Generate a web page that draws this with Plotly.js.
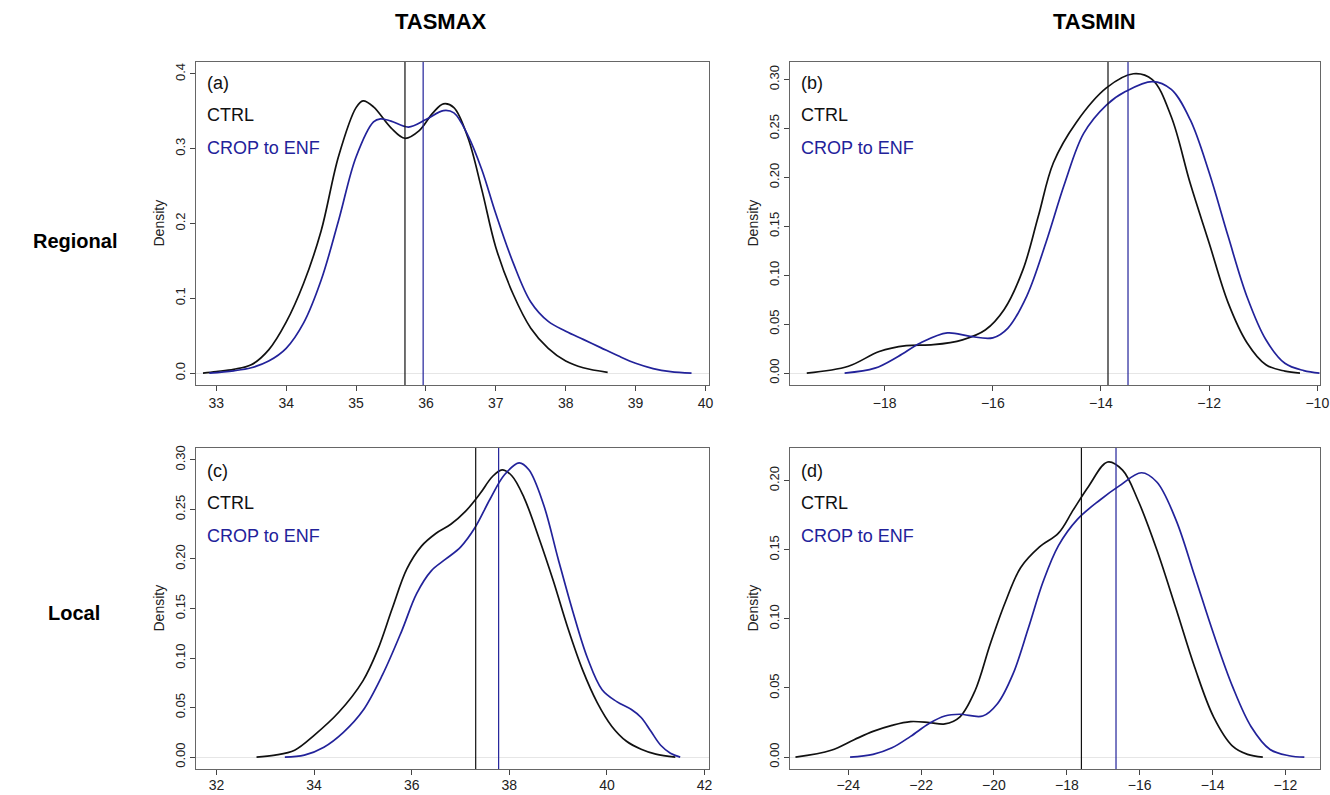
<!DOCTYPE html>
<html>
<head>
<meta charset="utf-8">
<script src="https://cdn.plot.ly/plotly-3.0.1.min.js"></script>
<style>html,body{margin:0;padding:0;background:#fff;}#chart{width:1330px;height:795px;}</style>
</head>
<body>
<div id="chart"></div>
<script>
// ---- Data ----
// (a) TASMAX, Regional
const aCtrlX = [32.81, 33.0, 33.25, 33.5, 33.75, 34.0, 34.25, 34.5, 34.75, 35.0, 35.1, 35.25, 35.5, 35.7, 35.9, 36.1, 36.25, 36.4, 36.6, 36.8, 37.0, 37.25, 37.5, 37.75, 38.0, 38.25, 38.6];
const aCtrlY = [0, 0.002, 0.005, 0.011, 0.031, 0.068, 0.12, 0.19, 0.29, 0.355, 0.364, 0.356, 0.328, 0.314, 0.324, 0.348, 0.36, 0.355, 0.315, 0.245, 0.168, 0.105, 0.06, 0.033, 0.016, 0.007, 0.001];
const aCropX = [32.9, 33.25, 33.5, 33.75, 34.0, 34.25, 34.5, 34.75, 35.0, 35.25, 35.35, 35.5, 35.75, 36.0, 36.25, 36.4, 36.6, 36.8, 37.0, 37.25, 37.5, 37.75, 38.0, 38.25, 38.5, 38.75, 39.0, 39.25, 39.5, 39.8];
const aCropY = [0, 0.003, 0.007, 0.016, 0.033, 0.067, 0.124, 0.204, 0.289, 0.336, 0.34, 0.337, 0.329, 0.339, 0.351, 0.348, 0.318, 0.272, 0.213, 0.147, 0.095, 0.069, 0.056, 0.045, 0.034, 0.023, 0.013, 0.006, 0.002, 0];
// (b) TASMIN, Regional
const bCtrlX = [-19.44, -18.67, -18.1, -17.6, -17.1, -16.56, -16.14, -15.79, -15.44, -15.16, -14.88, -14.46, -13.9, -13.4, -13.05, -12.7, -12.35, -12.0, -11.65, -11.3, -10.95, -10.6, -10.32];
const bCtrlY = [0, 0.007, 0.022, 0.028, 0.029, 0.034, 0.044, 0.065, 0.106, 0.16, 0.215, 0.256, 0.2915, 0.306, 0.30, 0.262, 0.194, 0.133, 0.072, 0.031, 0.0085, 0.002, 0];
const bCropX = [-18.74, -18.18, -17.75, -17.33, -16.84, -16.42, -16.0, -15.72, -15.37, -15.02, -14.67, -14.32, -13.9, -13.54, -13.05, -12.7, -12.35, -12.0, -11.65, -11.3, -10.95, -10.6, -10.25, -9.96];
const bCropY = [0, 0.005, 0.017, 0.031, 0.041, 0.0375, 0.036, 0.046, 0.079, 0.133, 0.194, 0.245, 0.274, 0.288, 0.298, 0.29, 0.259, 0.205, 0.14, 0.078, 0.034, 0.01, 0.0025, 0];
// (c) TASMAX, Local
const cCtrlX = [32.82, 33.2, 33.6, 34.0, 34.5, 35.0, 35.3, 35.6, 35.9, 36.2, 36.5, 36.8, 37.1, 37.4, 37.65, 37.85, 38.05, 38.3, 38.6, 38.9, 39.2, 39.5, 39.8, 40.1, 40.4, 40.7, 41.0, 41.4];
const cCtrlY = [0, 0.002, 0.007, 0.022, 0.045, 0.077, 0.108, 0.15, 0.19, 0.213, 0.226, 0.235, 0.248, 0.266, 0.283, 0.29, 0.284, 0.262, 0.222, 0.178, 0.13, 0.088, 0.055, 0.031, 0.016, 0.008, 0.003, 0];
const cCropX = [33.4, 33.8, 34.2, 34.6, 35.0, 35.4, 35.8, 36.1, 36.4, 36.7, 37.0, 37.3, 37.6, 37.9, 38.2, 38.4, 38.7, 39.0, 39.3, 39.6, 39.9, 40.2, 40.5, 40.7, 40.9, 41.1, 41.3, 41.5];
const cCropY = [0, 0.002, 0.01, 0.025, 0.047, 0.083, 0.128, 0.165, 0.188, 0.2, 0.212, 0.232, 0.26, 0.285, 0.297, 0.29, 0.255, 0.2, 0.147, 0.1, 0.068, 0.056, 0.048, 0.04, 0.026, 0.012, 0.004, 0];
// (d) TASMIN, Local
const dCtrlX = [-25.45, -24.47, -23.84, -23.32, -22.8, -22.29, -21.77, -21.35, -20.94, -20.52, -20.1, -19.69, -19.27, -18.75, -18.23, -17.82, -17.4, -16.88, -16.47, -16.05, -15.53, -15.01, -14.49, -13.97, -13.45, -13.04, -12.62];
const dCtrlY = [0, 0.005, 0.0126, 0.0186, 0.023, 0.0257, 0.025, 0.024, 0.029, 0.048, 0.082, 0.112, 0.137, 0.152, 0.162, 0.179, 0.196, 0.2135, 0.2076, 0.186, 0.15, 0.108, 0.065, 0.029, 0.008, 0.002, 0];
const dCropX = [-23.95, -23.32, -22.8, -22.29, -21.77, -21.35, -20.94, -20.31, -19.9, -19.48, -19.06, -18.65, -18.23, -17.71, -17.09, -16.57, -15.95, -15.53, -15.01, -14.49, -13.97, -13.45, -12.94, -12.42, -11.9, -11.48];
const dCropY = [0, 0.002, 0.0067, 0.015, 0.0245, 0.0297, 0.031, 0.0297, 0.0388, 0.06, 0.093, 0.127, 0.153, 0.172, 0.186, 0.196, 0.2057, 0.199, 0.172, 0.131, 0.089, 0.051, 0.022, 0.0055, 0.001, 0];
// Mean (vertical) lines per panel a, b, c, d
const meanCtrl = [35.70, -13.87, 37.31, -17.6];
const meanCrop = [35.96, -13.5, 37.78, -16.65];
// Tick values / labels
const aXTicks = [33, 34, 35, 36, 37, 38, 39, 40];
const aYTicks = [0.0, 0.1, 0.2, 0.3, 0.4];
const aYLabels = ['0.0', '0.1', '0.2', '0.3', '0.4'];
const bXTicks = [-18, -16, -14, -12, -10];
const bYTicks = [0.00, 0.05, 0.10, 0.15, 0.20, 0.25, 0.30];
const bYLabels = ['0.00', '0.05', '0.10', '0.15', '0.20', '0.25', '0.30'];
const cXTicks = [32, 34, 36, 38, 40, 42];
const cYTicks = [0.00, 0.05, 0.10, 0.15, 0.20, 0.25, 0.30];
const cYLabels = ['0.00', '0.05', '0.10', '0.15', '0.20', '0.25', '0.30'];
const dXTicks = [-24, -22, -20, -18, -16, -14, -12];
const dYTicks = [0.00, 0.05, 0.10, 0.15, 0.20];
const dYLabels = ['0.00', '0.05', '0.10', '0.15', '0.20'];
const panelLabels = ['(a)', '(b)', '(c)', '(d)'];
const seriesNames = ['CTRL', 'CROP to ENF'];
const colTitles = ['TASMAX', 'TASMIN'];
const rowTitles = ['Regional', 'Local'];

// ---- Layout helpers ----
const W = 1330, H = 795;
const FONT = 'Liberation Sans, Arial, sans-serif';
const BLACK = '#111111', BLUE = '#22229a';
const px = v => v / W, py = v => 1 - v / H;
const boxes = [
  {x0: 196, x1: 709, y0: 62, y1: 385, xr: [32.71, 40.05], yr: [-0.016, 0.416], sd: 0},
  {x0: 790, x1: 1320, y0: 62, y1: 385, xr: [-19.75, -9.95], yr: [-0.0122, 0.318], sd: 0},
  {x0: 196, x1: 709, y0: 448, y1: 769, xr: [31.58, 42.09], yr: [-0.012, 0.312], sd: -2},
  {x0: 790, x1: 1320, y0: 448, y1: 769, xr: [-25.6, -11.05], yr: [-0.0086, 0.2236], sd: -2}
];
const xt = [aXTicks, bXTicks, cXTicks, dXTicks];
const yt = [aYTicks, bYTicks, cYTicks, dYTicks];
const yl = [aYLabels, bYLabels, cYLabels, dYLabels];
const curves = [
  [aCtrlX, aCtrlY, aCropX, aCropY],
  [bCtrlX, bCtrlY, bCropX, bCropY],
  [cCtrlX, cCtrlY, cCropX, cCropY],
  [dCtrlX, dCtrlY, dCropX, dCropY]
];

const data = [];
const layout = {
  width: W, height: H, margin: {l: 0, r: 0, t: 0, b: 0},
  paper_bgcolor: '#fff', plot_bgcolor: '#fff', showlegend: false,
  font: {family: FONT, color: '#222'},
  shapes: [], annotations: []
};

boxes.forEach((b, i) => {
  const n = i + 1;
  const xa = 'x' + (n === 1 ? '' : n), ya = 'y' + (n === 1 ? '' : n);
  const xkey = 'xaxis' + (n === 1 ? '' : n), ykey = 'yaxis' + (n === 1 ? '' : n);
  const c = curves[i];
  data.push({x: c[0], y: c[1], xaxis: xa, yaxis: ya, type: 'scatter', mode: 'lines',
             line: {color: BLACK, width: 1.7, shape: 'spline', smoothing: 1}, hoverinfo: 'skip'});
  data.push({x: c[2], y: c[3], xaxis: xa, yaxis: ya, type: 'scatter', mode: 'lines',
             line: {color: BLUE, width: 1.7, shape: 'spline', smoothing: 1}, hoverinfo: 'skip'});
  layout[xkey] = {
    domain: [px(b.x0), px(b.x1)], anchor: ya, range: b.xr, showgrid: false, zeroline: false,
    showline: true, mirror: true, linecolor: '#666', linewidth: 1,
    ticks: 'outside', ticklen: 5, tickcolor: '#444', tickvals: xt[i], ticklabelstandoff: b.sd,
    tickfont: {size: 14, color: '#222', family: FONT}
  };
  layout[ykey] = {
    domain: [py(b.y1), py(b.y0)], anchor: xa, range: b.yr, showgrid: false, zeroline: true,
    zerolinecolor: '#e6e6e6', zerolinewidth: 1,
    showline: true, mirror: true, linecolor: '#666', linewidth: 1,
    ticks: 'outside', ticklen: 5, tickcolor: '#444', tickvals: yt[i], ticktext: yl[i],
    tickangle: -90, tickfont: {size: 13, color: '#222', family: FONT}
  };
  // mean lines
  layout.shapes.push({type: 'line', xref: xa, yref: ya + ' domain', x0: meanCtrl[i], x1: meanCtrl[i], y0: 0, y1: 1,
                      line: {color: BLACK, width: 1.2}});
  layout.shapes.push({type: 'line', xref: xa, yref: ya + ' domain', x0: meanCrop[i], x1: meanCrop[i], y0: 0, y1: 1,
                      line: {color: BLUE, width: 1.2}});
  // in-panel labels
  const top = i < 2 ? b.y0 + 21 : b.y0 + 23;
  layout.annotations.push({xref: 'paper', yref: 'paper', x: px(b.x0 + 9), y: py(top), xanchor: 'left', yanchor: 'middle',
                           text: panelLabels[i], showarrow: false, font: {size: 18, color: BLACK, family: FONT}});
  layout.annotations.push({xref: 'paper', yref: 'paper', x: px(b.x0 + 9), y: py(top + 32), xanchor: 'left', yanchor: 'middle',
                           text: seriesNames[0], showarrow: false, font: {size: 18, color: BLACK, family: FONT}});
  layout.annotations.push({xref: 'paper', yref: 'paper', x: px(b.x0 + 9), y: py(top + 65), xanchor: 'left', yanchor: 'middle',
                           text: seriesNames[1], showarrow: false, font: {size: 18, color: BLUE, family: FONT}});
  // Density label
  layout.annotations.push({xref: 'paper', yref: 'paper', x: px(b.x0 - 38), y: py((b.y0 + b.y1) / 2), xanchor: 'center', yanchor: 'middle',
                           text: 'Density', textangle: -90, showarrow: false, font: {size: 14, color: '#222', family: FONT}});
});

// column & row titles
layout.annotations.push({xref: 'paper', yref: 'paper', x: px(441), y: py(22), xanchor: 'center', yanchor: 'middle',
                         text: '<b>' + colTitles[0] + '</b>', showarrow: false, font: {size: 22, color: '#000', family: FONT}});
layout.annotations.push({xref: 'paper', yref: 'paper', x: px(1094), y: py(22), xanchor: 'center', yanchor: 'middle',
                         text: '<b>' + colTitles[1] + '</b>', showarrow: false, font: {size: 22, color: '#000', family: FONT}});
layout.annotations.push({xref: 'paper', yref: 'paper', x: px(75), y: py(241), xanchor: 'center', yanchor: 'middle',
                         text: '<b>' + rowTitles[0] + '</b>', showarrow: false, font: {size: 20, color: '#000', family: FONT}});
layout.annotations.push({xref: 'paper', yref: 'paper', x: px(74), y: py(613), xanchor: 'center', yanchor: 'middle',
                         text: '<b>' + rowTitles[1] + '</b>', showarrow: false, font: {size: 20, color: '#000', family: FONT}});

Plotly.newPlot('chart', data, layout, {staticPlot: true, displayModeBar: false});
</script>
</body>
</html>
